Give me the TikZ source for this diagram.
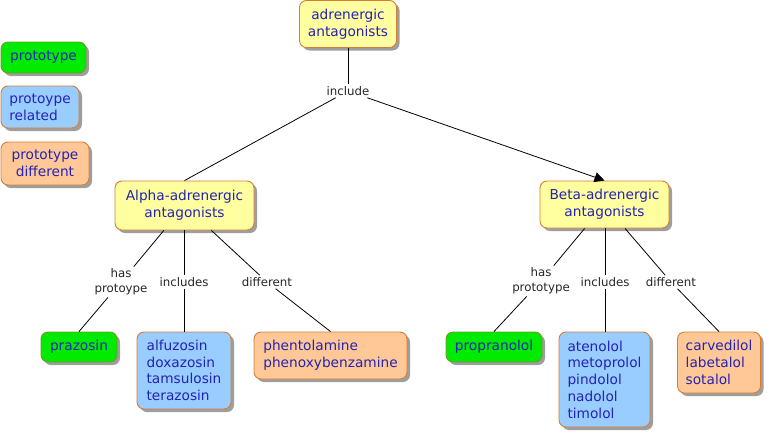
\documentclass[tikz,border=0pt]{standalone}
\usepackage{fontspec}
\setmainfont{DejaVu Sans}
\usetikzlibrary{shadows,arrows.meta}
\definecolor{txt}{RGB}{35,35,180}
\definecolor{yelfill}{RGB}{255,255,160}
\definecolor{grnfill}{RGB}{0,235,0}
\definecolor{blufill}{RGB}{153,204,255}
\definecolor{pchfill}{RGB}{255,200,150}
\definecolor{orborder}{RGB}{215,125,55}
\definecolor{grnborder}{RGB}{120,150,40}
\begin{document}
\begin{tikzpicture}[x=1pt,y=-1pt,
  concept/.style={rounded corners=7pt, line width=0.9pt, text=txt,
    font=\fontsize{13.7}{16.7}\selectfont, inner sep=0pt,
    drop shadow={shadow xshift=3pt,shadow yshift=-3pt,fill=black,opacity=0.38}},
  yelbox/.style={concept, fill=yelfill, draw=orborder, align=center},
  grnbox/.style={concept, fill=grnfill, draw=grnborder, align=center},
  blubox/.style={concept, fill=blufill, draw=orborder, align=left},
  pchbox/.style={concept, fill=pchfill, draw=orborder, align=left},
  lab/.style={font=\fontsize{11.8}{15}\selectfont, text=black!85, align=center, inner sep=2pt},
  link/.style={draw=black, line width=0.8pt},
  arr/.style={link, -{Triangle[length=10pt,width=10pt]}}
]
\useasboundingbox (0,0) rectangle (767,434);

% legend
\node[grnbox, minimum width=85pt, minimum height=31pt] (leg1) at (43.5,57.5) {prototype};
\node[blubox, minimum width=78pt, minimum height=42pt] (leg2) at (40,107) {protoype\\related};
\node[pchbox, align=center, minimum width=88pt, minimum height=43pt] (leg3) at (45,163.5) {prototype\\ different};

% main concepts
\node[yelbox, minimum width=97pt, minimum height=47pt] (top) at (348,24) {adrenergic\\antagonists};
\node[yelbox, minimum width=139pt, minimum height=49pt] (alpha) at (184.5,205.5) {Alpha-adrenergic\\antagonists};
\node[yelbox, minimum width=129pt, minimum height=47pt] (beta) at (604.5,204.5) {Beta-adrenergic\\antagonists};

% alpha children
\node[grnbox, minimum width=76pt, minimum height=30pt] (praz) at (79,347) {prazosin};
\node[blubox, minimum width=94pt, minimum height=77pt] (alfu) at (184,370.5) {alfuzosin\\doxazosin\\tamsulosin\\terazosin};
\node[pchbox, minimum width=153pt, minimum height=47pt] (phen) at (330.5,355.5) {phentolamine\\phenoxybenzamine};

% beta children
\node[grnbox, minimum width=96pt, minimum height=30pt] (prop) at (494,347) {propranolol};
\node[blubox, minimum width=91pt, minimum height=95pt] (aten) at (604.5,379.5) {atenolol\\metoprolol\\pindolol\\nadolol\\timolol};
\node[pchbox, minimum width=83pt, minimum height=61pt] (carv) at (719,362.5) {carvedilol\\labetalol\\sotalol};

% linking phrases
\node[lab] (inc) at (348,91) {include};
\node[lab] (lhas) at (121,282) {has\\protoype};
\node[lab] (linc) at (184,282) {includes};
\node[lab] (ldif) at (267,282) {different};
\node[lab] (rhas) at (541,281) {has\\prototype};
\node[lab] (rinc) at (605,282) {includes};
\node[lab] (rdif) at (671,282) {different};

% connectors
\draw[link] (top) -- (inc);
\draw[link] (inc) -- (alpha.north);
\draw[arr] (inc) -- (beta.north);

\draw[link] (alpha) -- (lhas);
\draw[link] (lhas) -- (praz.north);
\draw[link] (alpha.south -| linc) -- (linc);
\draw[link] (linc) -- (alfu.north -| linc);
\draw[link] (alpha) -- (ldif);
\draw[link] (ldif) -- (phen.north);

\draw[link] (beta) -- (rhas);
\draw[link] (rhas) -- (prop.north);
\draw[link] (beta.south -| rinc) -- (rinc);
\draw[link] (rinc) -- (aten.north -| rinc);
\draw[link] (beta) -- (rdif);
\draw[link] (rdif) -- (carv.north);
\end{tikzpicture}
\end{document}
